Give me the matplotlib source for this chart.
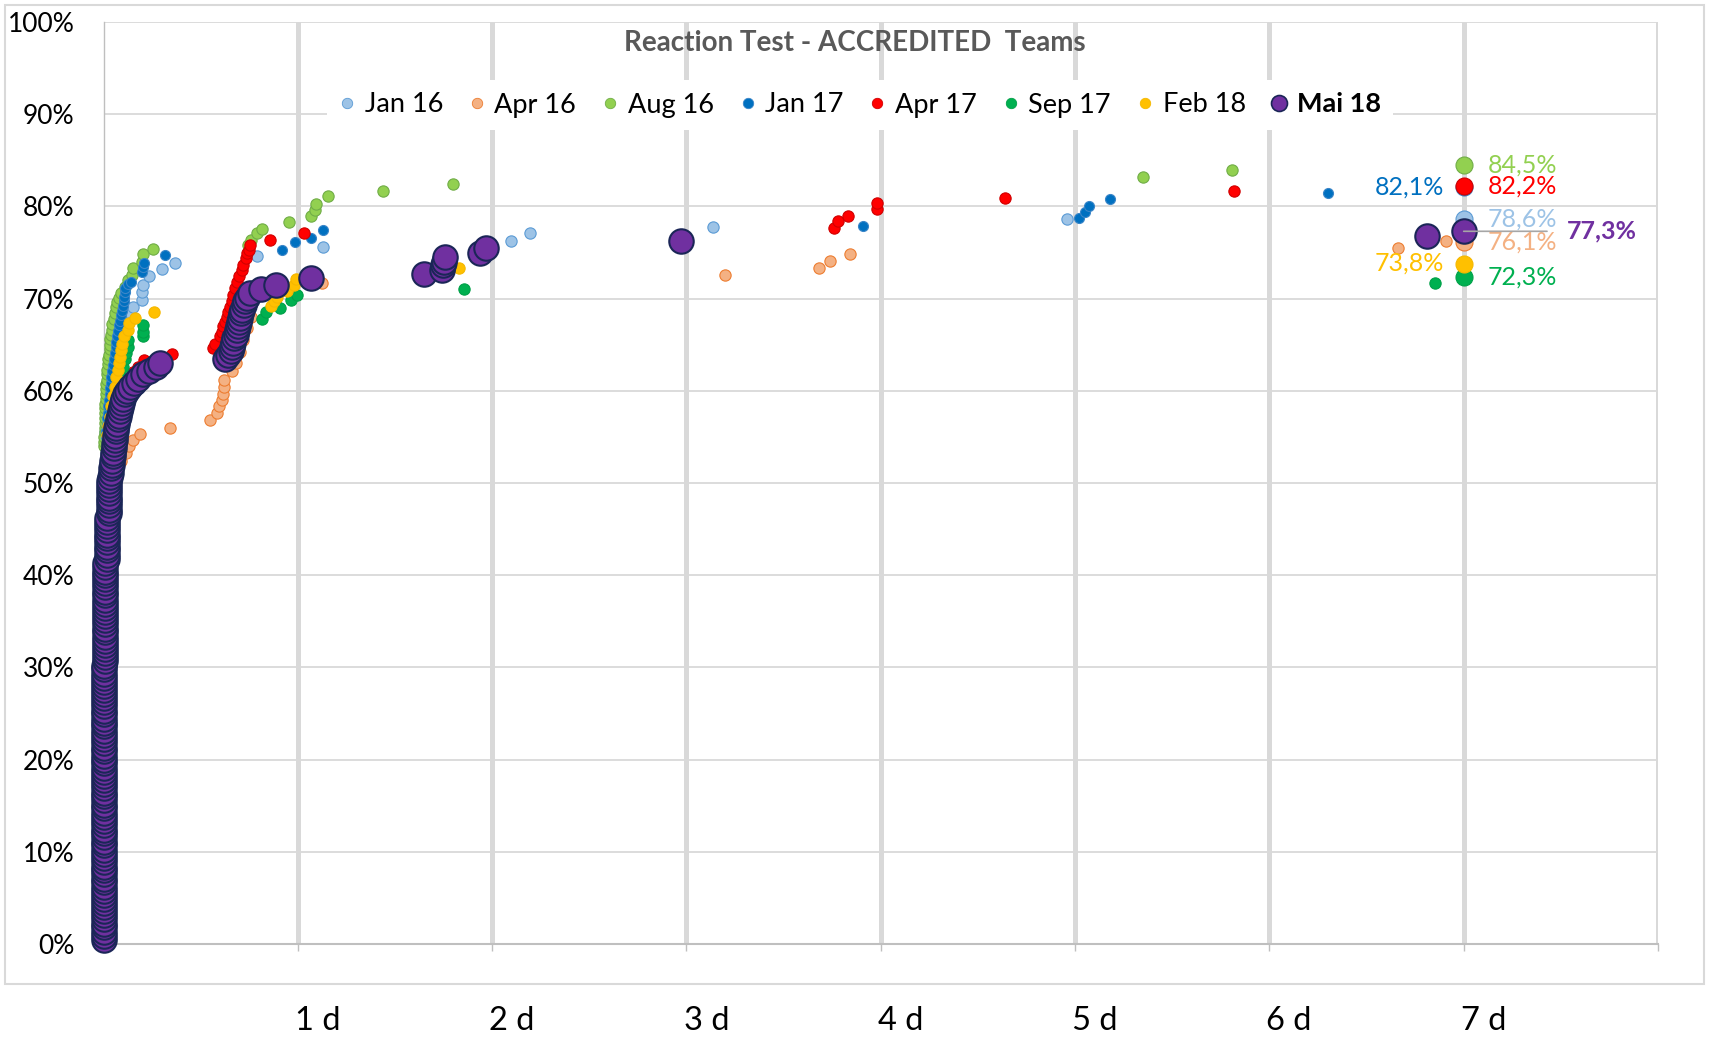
import matplotlib.pyplot as plt
import matplotlib.transforms as mtransforms
from matplotlib.lines import Line2D
from matplotlib.patches import Rectangle

plt.rcParams['font.family'] = ['Lato', 'DejaVu Sans']

W, H = 1709, 1039

# series in Excel order (later ones are drawn on top)
series_names = ['Jan 16', 'Apr 16', 'Aug 16', 'Jan 17', 'Apr 17', 'Sep 17', 'Feb 18', 'Mai 18']
face_colors = ['#9DC3E6', '#F4B183', '#92D050', '#0070C0', '#FF0000', '#00B050', '#FFC000', '#7030A0']
edge_colors = ['#5B9BD5', '#ED7D31', '#70AD47', '#3C86C8', '#D00000', '#00A048', '#F5B800', '#1B2657']

# (days, cumulative % of teams reacted)
jan16 = [(0.010, 55.5), (0.013, 56.5), (0.016, 57.5), (0.020, 58.5), (0.025, 59.5), (0.030, 60.5),
         (0.036, 61.5), (0.042, 62.5), (0.050, 63.5), (0.058, 64.5), (0.066, 65.5), (0.078, 66.3),
         (0.090, 67.0), (0.110, 67.9), (0.125, 68.5), (0.153, 69.1), (0.197, 69.9), (0.197, 70.7),
         (0.205, 71.5), (0.236, 72.4), (0.300, 73.2), (0.368, 73.9),
         (0.788, 74.6), (1.128, 75.6),
         (2.096, 76.3), (2.195, 77.1), (3.135, 77.8), (4.960, 78.6)]

apr16 = [(0.030, 50.8), (0.060, 51.5), (0.090, 52.4), (0.115, 53.2), (0.130, 54.0), (0.150, 54.7),
         (0.190, 55.3), (0.340, 56.0),
         (0.548, 56.8), (0.583, 57.6), (0.596, 58.3), (0.608, 59.0), (0.617, 59.7), (0.620, 60.4),
         (0.620, 61.2), (0.660, 62.1), (0.680, 63.0), (0.700, 64.2), (0.720, 65.5), (0.740, 66.8),
         (0.760, 68.0), (0.882, 69.5), (1.125, 71.7),
         (3.200, 72.6), (3.680, 73.3), (3.740, 74.1), (3.840, 74.8), (6.660, 75.5), (6.910, 76.2)]

aug16 = [(0.004, 54.0), (0.005, 54.5), (0.005, 55.0), (0.006, 55.5), (0.006, 56.0), (0.006, 56.5),
         (0.007, 57.1), (0.008, 57.6), (0.009, 58.1), (0.010, 58.6), (0.011, 59.1), (0.012, 59.6),
         (0.013, 60.2), (0.015, 60.7), (0.017, 61.2), (0.018, 61.8), (0.020, 62.3), (0.023, 62.9),
         (0.025, 63.4), (0.028, 63.9), (0.031, 64.5), (0.033, 65.0), (0.036, 65.6), (0.038, 66.1),
         (0.042, 66.6), (0.046, 67.2), (0.052, 67.8), (0.058, 68.4), (0.066, 69.1), (0.072, 69.6),
         (0.080, 70.1), (0.092, 70.6), (0.109, 71.3), (0.126, 72.0), (0.145, 72.6), (0.153, 73.3),
         (0.197, 74.0), (0.205, 74.8), (0.256, 75.4),
         (0.745, 75.8), (0.760, 76.4), (0.790, 77.1), (0.814, 77.5), (0.956, 78.3), (1.070, 79.0),
         (1.090, 79.6), (1.094, 80.3), (1.157, 81.1),
         (1.440, 81.7), (1.797, 82.4), (5.350, 83.2), (5.810, 83.9)]

jan17 = [(0.012, 55.0), (0.015, 55.6), (0.018, 56.3), (0.020, 57.0), (0.022, 57.6), (0.025, 58.3),
         (0.028, 59.0), (0.032, 59.6), (0.035, 60.3), (0.037, 60.9), (0.040, 61.5), (0.044, 62.2),
         (0.049, 62.8), (0.053, 63.4), (0.058, 64.1), (0.062, 64.7), (0.066, 65.3), (0.070, 65.9),
         (0.075, 66.5), (0.079, 67.1), (0.083, 67.6), (0.089, 68.2), (0.095, 68.7), (0.100, 69.2),
         (0.105, 69.7), (0.108, 70.2), (0.109, 70.7), (0.109, 71.2), (0.125, 71.6), (0.143, 71.8),
         (0.200, 72.9), (0.204, 73.4), (0.208, 73.9), (0.315, 74.7),
         (0.917, 75.3), (0.986, 76.1), (1.070, 76.6), (1.128, 77.4),
         (3.910, 77.9), (5.020, 78.7), (5.050, 79.4), (5.070, 80.0), (5.180, 80.8), (6.300, 81.4)]

apr17 = [(0.150, 62.0), (0.177, 62.6), (0.208, 63.3), (0.353, 64.0),
         (0.565, 64.6), (0.574, 65.1), (0.600, 65.9), (0.608, 66.4), (0.617, 67.0), (0.625, 67.5),
         (0.634, 68.0), (0.642, 68.6), (0.651, 69.1), (0.660, 69.7), (0.668, 70.4), (0.677, 71.1),
         (0.685, 71.8), (0.699, 72.4), (0.711, 73.1), (0.720, 73.6), (0.733, 74.4), (0.740, 74.9),
         (0.749, 75.3), (0.754, 75.8), (0.857, 76.4), (1.033, 77.1),
         (3.760, 77.7), (3.780, 78.4), (3.830, 79.0), (3.980, 79.7), (3.980, 80.4), (4.640, 80.9),
         (5.820, 81.7)]

sep17 = [(0.070, 60.0), (0.090, 61.5), (0.100, 62.6), (0.109, 63.4), (0.117, 64.1), (0.127, 64.8),
         (0.128, 65.5), (0.203, 65.9), (0.205, 66.4), (0.202, 67.1),
         (0.814, 67.8), (0.836, 68.5), (0.908, 69.0), (0.963, 69.8), (0.994, 70.4),
         (1.855, 71.0), (6.850, 71.7)]

feb18 = [(0.020, 55.2), (0.025, 56.2), (0.032, 57.2), (0.040, 58.3), (0.049, 59.4), (0.058, 60.4),
         (0.066, 61.5), (0.075, 62.3), (0.079, 63.0), (0.083, 63.7), (0.089, 64.4), (0.095, 65.1),
         (0.105, 65.9), (0.126, 66.6), (0.130, 67.3), (0.160, 67.9), (0.260, 68.5),
         (0.860, 69.2), (0.877, 69.7), (0.895, 70.2), (0.946, 70.8), (0.980, 71.5), (0.990, 72.1),
         (1.830, 73.3)]

# Mai 18: near-vertical stack of the first reactions, one list per x position
mai18_col_x = [0.0, 0.008, 0.016, 0.026]
mai18_col_y = [
    [0.4, 0.9, 1.3, 1.8, 2.2, 2.7, 3.1, 3.6, 4.0, 4.4, 4.9, 5.3, 5.8, 6.2, 6.7, 7.1, 7.6, 8.0,
     8.4, 8.9, 9.3, 9.8, 10.2, 10.7, 11.1, 11.6, 12.0, 12.4, 12.9, 13.3, 13.8, 14.2, 14.7, 15.1,
     15.6, 16.0, 16.4, 16.9, 17.3, 17.8, 18.2, 18.7, 19.1, 19.6, 20.0, 20.4, 20.9, 21.3, 21.8,
     22.2, 22.7, 23.1, 23.6, 24.0, 24.4, 24.9, 25.3, 25.8, 26.2, 26.7, 27.1, 27.6, 28.0, 28.4,
     28.9, 29.3, 29.8, 30.2],
    [30.7, 31.1, 31.6, 32.0, 32.4, 32.9, 33.3, 33.8, 34.2, 34.7, 35.1, 35.6, 36.0, 36.4, 36.9,
     37.3, 37.8, 38.2, 38.7, 39.1, 39.6, 40.0, 40.4, 40.9, 41.3],
    [41.8, 42.2, 42.7, 43.1, 43.6, 44.0, 44.4, 44.9, 45.3, 45.8, 46.2],
    [46.7, 47.1, 47.6, 48.0, 48.4, 48.9, 49.3, 49.8, 50.2],
]
mai18 = [(0.035, 50.7), (0.038, 51.1), (0.040, 51.6), (0.042, 52.0), (0.045, 52.4), (0.047, 52.9),
         (0.050, 53.3), (0.052, 53.8), (0.055, 54.2), (0.057, 54.7), (0.060, 55.1), (0.062, 55.6),
         (0.066, 56.0), (0.070, 56.4), (0.074, 56.9), (0.078, 57.3), (0.083, 57.8), (0.088, 58.2),
         (0.094, 58.7), (0.101, 59.1), (0.110, 59.6), (0.120, 60.0), (0.135, 60.4), (0.155, 60.9),
         (0.180, 61.3), (0.205, 61.8), (0.235, 62.2), (0.270, 62.6), (0.290, 63.0),
         (0.625, 63.4), (0.643, 63.9), (0.655, 64.3), (0.663, 64.8), (0.668, 65.2), (0.673, 65.7),
         (0.680, 66.1), (0.685, 66.6), (0.690, 67.0), (0.696, 67.5), (0.700, 67.9), (0.708, 68.4),
         (0.715, 68.8), (0.722, 69.3), (0.730, 69.7), (0.740, 70.1), (0.754, 70.6), (0.810, 71.0),
         (0.888, 71.5), (1.068, 72.2),
         (1.650, 72.7), (1.740, 73.1), (1.745, 73.6), (1.750, 74.0), (1.758, 74.5), (1.940, 75.0),
         (1.970, 75.5), (2.970, 76.2), (6.810, 76.8)]

series_points = [jan16, apr16, aug16, jan17, apr17, sep17, feb18, mai18]
marker_sizes = [66, 66, 66, 52, 66, 66, 66, 310]

# final values after 7 days
end_day = 7
end_values = [78.6, 76.1, 84.5, 82.1, 82.2, 72.3, 73.8, 77.3]
end_label_side = ['right', 'right', 'right', 'left', 'right', 'right', 'left', 'far']

x_tick_days = [1, 2, 3, 4, 5, 6, 7]
x_tick_labels = ['1 d', '2 d', '3 d', '4 d', '5 d', '6 d', '7 d']
y_ticks = [0, 10, 20, 30, 40, 50, 60, 70, 80, 90, 100]
y_tick_labels = ['0%', '10%', '20%', '30%', '40%', '50%', '60%', '70%', '80%', '90%', '100%']

fig = plt.figure(figsize=(W / 100, H / 100), dpi=100)
ax = fig.add_axes([103.5 / W, 1 - 944 / H, (1658 - 103.5) / W, (944 - 22) / H])

grid_col = '#D9D9D9'
for y in y_ticks[1:]:
    ax.axhline(y, color=grid_col, lw=1.3, zorder=0)
for d in range(1, 9):
    ax.axvline(d, color=grid_col, lw=3.6, zorder=0.5)

for i, pts in enumerate(series_points):
    xs = [p[0] for p in pts]
    ys = [p[1] for p in pts]
    big = series_names[i] == 'Mai 18'
    if big:
        for cx, cys in zip(mai18_col_x, mai18_col_y):
            ax.scatter([cx] * len(cys), cys, s=marker_sizes[i], c=face_colors[i],
                       edgecolors=edge_colors[i], linewidths=1.5, zorder=2 + i, clip_on=False)
    ax.scatter(xs, ys, s=marker_sizes[i], c=face_colors[i], edgecolors=edge_colors[i],
               linewidths=1.5 if big else 0.8, zorder=2 + i, clip_on=False)

# end points and labels
for i, v in enumerate(end_values):
    big = series_names[i] == 'Mai 18'
    ax.scatter([end_day], [v], s=310 if big else 150, c=face_colors[i], edgecolors=edge_colors[i],
               linewidths=1.5 if big else 0.8, zorder=12 + i, clip_on=False)
    txt = f'{v:.1f}%'.replace('.', ',')
    side = end_label_side[i]
    if side == 'right':
        ax.annotate(txt, (end_day, v), xytext=(17, 0), textcoords='offset points',
                    ha='left', va='center', fontsize=18, color=face_colors[i], zorder=25)
    elif side == 'left':
        ax.annotate(txt, (end_day, v), xytext=(-14, 0), textcoords='offset points',
                    ha='right', va='center', fontsize=18, color=face_colors[i], zorder=25)
    else:
        ax.annotate(txt, (end_day, v), xytext=(74, 0), textcoords='offset points',
                    ha='left', va='center', fontsize=18, color=face_colors[i],
                    fontweight='bold', zorder=25,
                    arrowprops=dict(arrowstyle='-', color='#A6A6A6', lw=1.2,
                                    shrinkA=12, shrinkB=0))

ax.set_xlim(0, 8)
ax.set_ylim(0, 100)
ax.set_yticks(y_ticks)
ax.set_yticklabels(y_tick_labels, fontsize=19)
ax.set_xticks(range(1, 9))
ax.set_xticklabels([])
ax.tick_params(axis='y', length=0, pad=21)
ax.tick_params(axis='x', length=5, color='#BFBFBF', width=1)
for s in ['top', 'right']:
    ax.spines[s].set_visible(False)
ax.spines['left'].set_color('#BFBFBF')
ax.spines['left'].set_linewidth(1.0)
ax.spines['bottom'].set_color('#BFBFBF')
ax.spines['bottom'].set_linewidth(1.5)

trans = mtransforms.blended_transform_factory(ax.transData, ax.transAxes)
for d, lab in zip(x_tick_days, x_tick_labels):
    ax.text(d - 0.015, -0.083, lab, transform=trans, ha='left', va='center', fontsize=23.5)

fig.text(0.5, 1 - 43 / H, 'Reaction Test - ACCREDITED  Teams', ha='center', va='center',
         fontsize=20, fontweight='bold', color='#595959')

handles = []
for i, name in enumerate(series_names):
    big = name == 'Mai 18'
    handles.append(Line2D([], [], marker='o', linestyle='none', markerfacecolor=face_colors[i],
                          markeredgecolor=edge_colors[i], markeredgewidth=1.2 if big else 0.6,
                          markersize=11.5 if big else 7.5))
leg = ax.legend(handles, series_names, loc='center', bbox_to_anchor=(860 / W, 1 - 105 / H),
                bbox_transform=fig.transFigure, ncol=8, fontsize=19.5, frameon=True,
                handlelength=0.6, handletextpad=0.35, columnspacing=0.95, borderpad=0.45)
leg.get_frame().set_facecolor('white')
leg.get_frame().set_edgecolor('none')
leg.get_frame().set_alpha(1)
leg.set_zorder(30)
leg.get_texts()[-1].set_fontweight('bold')

fig.patches.append(Rectangle((5 / W, 1 - 984 / H), 1699 / W, 979 / H, transform=fig.transFigure,
                             fill=False, edgecolor='#D9D9D9', lw=1.5))

fig.savefig('out.png', dpi=100)
